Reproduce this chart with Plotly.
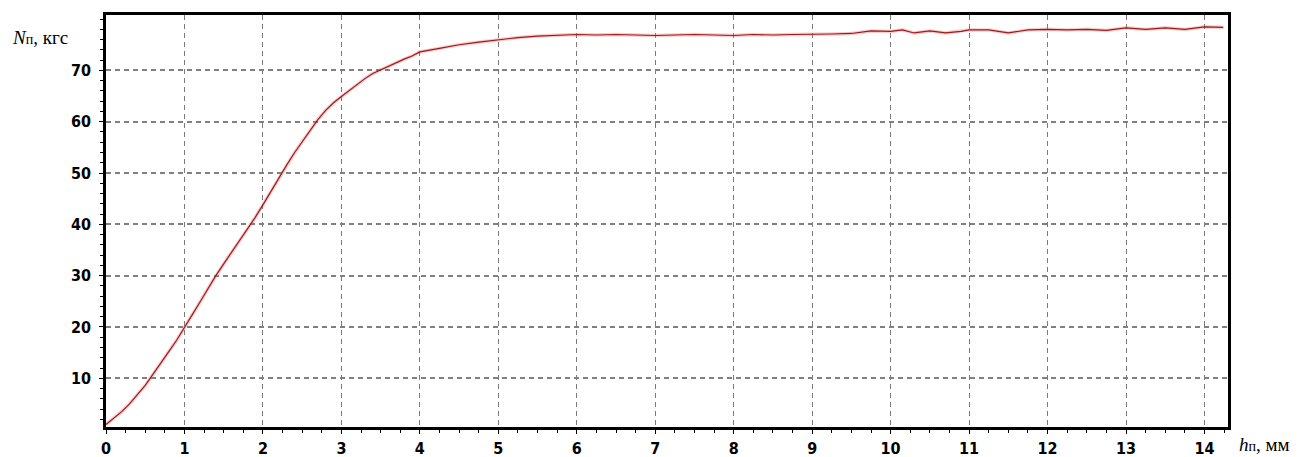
import plotly.graph_objects as go

# h_p, mm
h_mm = [0.0, 0.1, 0.2, 0.3, 0.4, 0.5, 0.6, 0.7, 0.8, 0.9,
        1.0, 1.1, 1.2, 1.3, 1.4, 1.5, 1.6, 1.7, 1.8, 1.9,
        2.0, 2.1, 2.2, 2.3, 2.4, 2.5, 2.6, 2.7, 2.8, 2.9,
        3.0, 3.1, 3.2, 3.3, 3.4, 3.5, 3.6, 3.7, 3.8, 3.9,
        4.0, 4.25, 4.5, 4.75, 5.0, 5.25, 5.5, 5.75, 6.0, 6.25,
        6.5, 6.75, 7.0, 7.25, 7.5, 7.75, 8.0, 8.25, 8.5, 8.75,
        9.0, 9.25, 9.5, 9.75, 10.0, 10.15, 10.3, 10.5, 10.7, 10.9,
        11.0, 11.25, 11.5, 11.75, 12.0, 12.25, 12.5, 12.75, 13.0, 13.25,
        13.5, 13.75, 14.0, 14.24]
# N_p, kgf
n_kgf = [1.0, 2.2, 3.5, 5.0, 6.7, 8.6, 10.8, 12.9, 15.2, 17.4,
         19.8, 22.4, 24.9, 27.5, 30.0, 32.3, 34.5, 36.7, 38.9, 41.3,
         43.8, 46.4, 49.0, 51.5, 53.9, 56.1, 58.3, 60.4, 62.2, 63.7,
         64.9, 66.1, 67.3, 68.4, 69.4, 70.1, 70.8, 71.6, 72.2, 72.8,
         73.6, 74.3, 75.0, 75.5, 76.0, 76.4, 76.7, 76.9, 77.0, 76.9,
         77.0, 76.9, 76.8, 76.9, 77.0, 76.9, 76.8, 77.0, 76.9, 77.0,
         77.0, 77.1, 77.2, 77.7, 77.6, 77.9, 77.3, 77.7, 77.3, 77.6,
         77.9, 77.9, 77.3, 77.9, 78.0, 77.9, 78.0, 77.8, 78.3, 78.0,
         78.3, 78.0, 78.5, 78.4]

x_ticks = list(range(0, 15))
y_ticks = [10, 20, 30, 40, 50, 60, 70]

tick_font = dict(family="Liberation Sans Narrow, Arial Narrow, DejaVu Sans Condensed, sans-serif",
                 size=16, color="black", weight="bold")
title_font = dict(family="Liberation Serif, Times New Roman, serif", size=19, color="black")

fig = go.Figure()
fig.add_trace(go.Scatter(x=h_mm, y=n_kgf, mode="lines",
                         line=dict(color="rgba(230,110,110,0.35)", width=3.5),
                         hoverinfo="skip", showlegend=False))
fig.add_trace(go.Scatter(x=h_mm, y=n_kgf, mode="lines",
                         line=dict(color="#a01818", width=1.2),
                         showlegend=False))

fig.update_xaxes(range=[0, 14.3], tickvals=x_ticks, ticktext=[str(v) for v in x_ticks],
                 showgrid=True, gridcolor="#7a7a7a", gridwidth=1, griddash="5px,4px",
                 showline=True, linecolor="black", linewidth=2.5, mirror=True,
                 ticks="outside", ticklen=4, tickwidth=1, tickcolor="black",
                 minor=dict(dtick=0.25, ticks="outside", ticklen=3, tickcolor="black", showgrid=False),
                 zeroline=False, tickfont=tick_font, ticklabelstandoff=1, automargin=False)
fig.update_yaxes(range=[0.5, 80.8], tickvals=y_ticks, ticktext=[str(v) for v in y_ticks],
                 showgrid=True, gridcolor="#808080", gridwidth=2, griddash="5px,4px",
                 showline=True, linecolor="black", linewidth=2.5, mirror=True,
                 ticks="outside", ticklen=4, tickwidth=1, tickcolor="black",
                 minor=dict(dtick=2, ticks="outside", ticklen=3, tickcolor="black", showgrid=False),
                 zeroline=False, tickfont=tick_font, ticklabelstandoff=5, automargin=False)

fig.add_annotation(xref="paper", yref="paper", x=-0.0855, y=0.9466,
                   xanchor="left", yanchor="middle", showarrow=False,
                   text="<i>N</i><span style='font-size:14px'>п</span>, кгс", font=title_font)
fig.add_annotation(xref="paper", yref="paper", x=1.008, y=-0.0725,
                   xanchor="left", yanchor="bottom", showarrow=False,
                   text="<i>h</i><span style='font-size:14px'>п</span>, мм", font=title_font)

fig.update_layout(width=1304, height=457, plot_bgcolor="white", paper_bgcolor="white",
                  margin=dict(l=106, r=76, t=15, b=30, autoexpand=False))
fig.write_html("out.html", config={"displayModeBar": False},
               post_script="document.body.style.margin='0';document.body.style.overflow='hidden';")
